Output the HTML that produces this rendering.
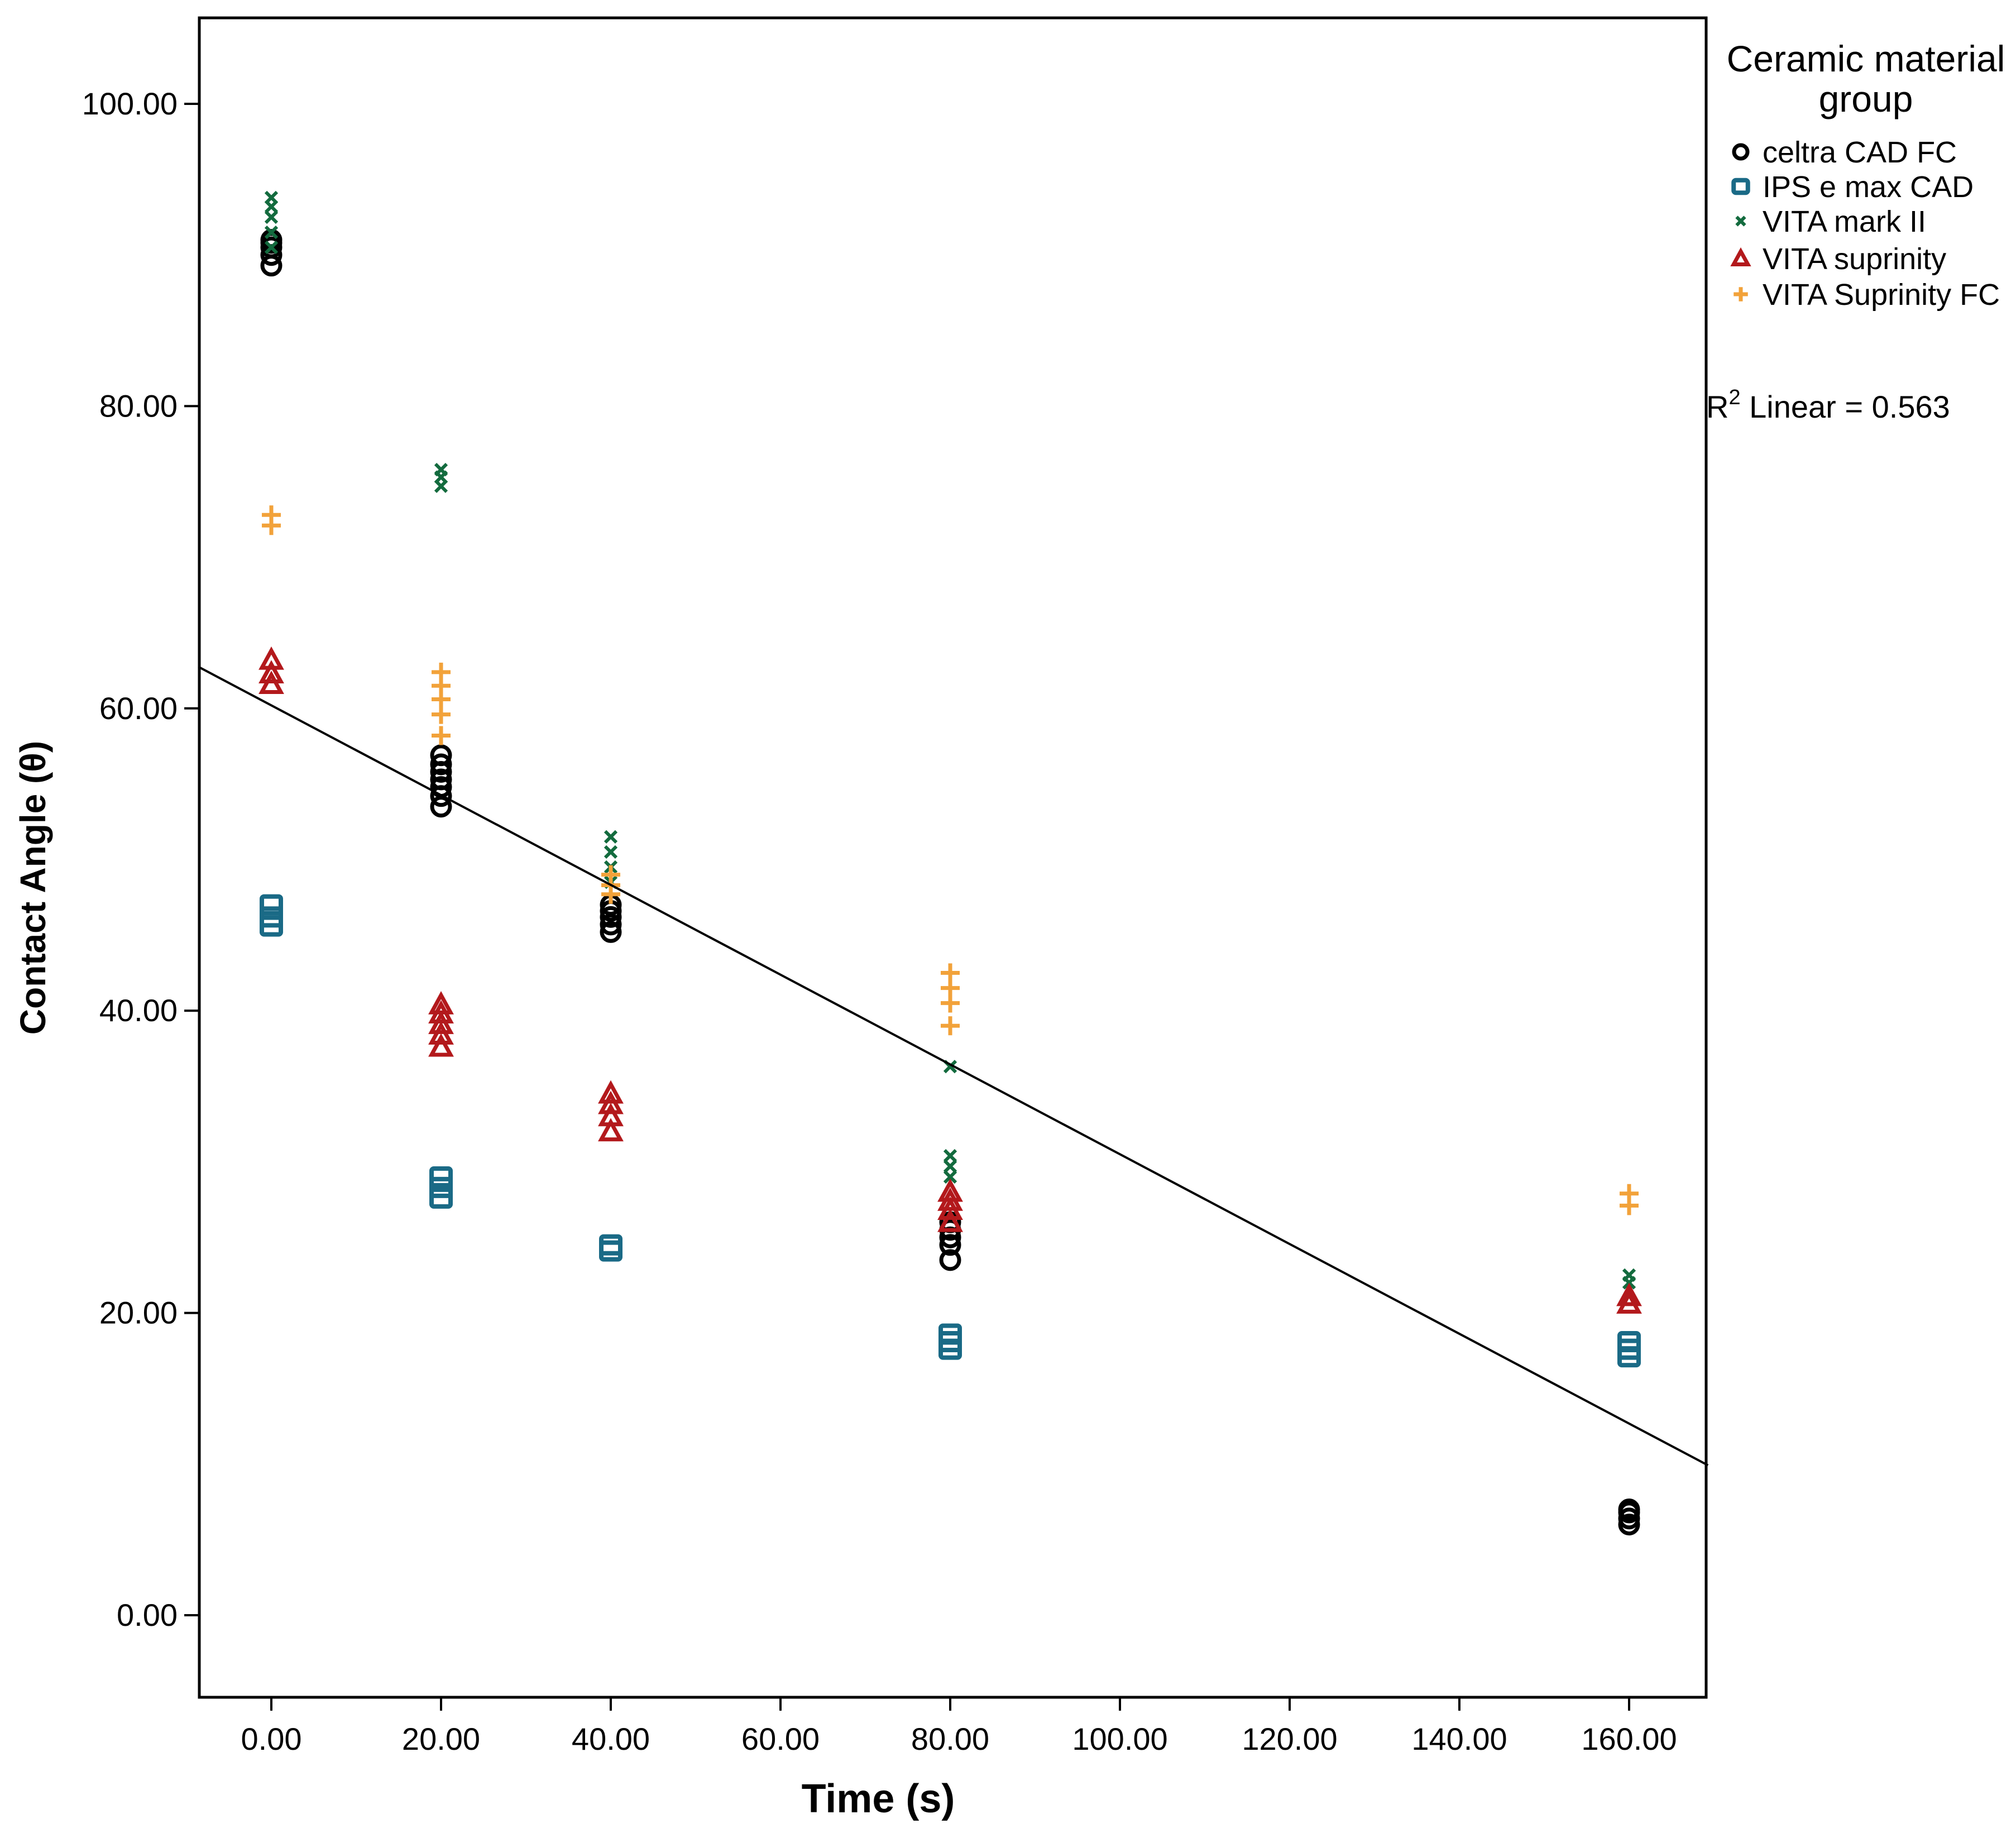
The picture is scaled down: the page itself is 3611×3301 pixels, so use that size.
<!DOCTYPE html>
<html><head><meta charset="utf-8"><style>
html,body{margin:0;padding:0;background:#fff}
svg{display:block;font-family:"Liberation Sans",Arial,sans-serif}
</style></head><body>
<svg id="chart" width="3611" height="3301" viewBox="0 0 3611 3301">
<rect x="0" y="0" width="3611" height="3301" fill="#fff"/>
<g id="axes"></g>
<g id="marks"></g>
<rect x="357" y="32" width="2699" height="3008" fill="none" stroke="#000" stroke-width="5"/>
<text x="64" y="1590" transform="rotate(-90 64 1590)" text-anchor="middle" font-size="64" font-weight="bold" dominant-baseline="middle">Contact Angle (θ)</text>
<text x="1573" y="3246" text-anchor="middle" font-size="72" font-weight="bold">Time (s)</text>
<g>
<text x="3342" y="128" text-anchor="middle" font-size="66">Ceramic material</text>
<text x="3342" y="200" text-anchor="middle" font-size="66">group</text>
<g id="legend-entries"></g>
</g>
<text x="3056" y="748" font-size="56">R<tspan dy="-24" font-size="38">2</tspan><tspan dy="24"> Linear = 0.563</tspan></text>
</svg>
<script>
const yTicks=[0,20,40,60,80,100];
const xTicks=[0,20,40,60,80,100,120,140,160];
const groupNames=["celtra CAD FC","IPS e max CAD","VITA mark II","VITA suprinity","VITA Suprinity FC"];
const celtraT=[0,0,0,0,0,20,20,20,20,20,20,20,40,40,40,40,40,80,80,80,80,80,160,160,160,160];
const celtraV=[89.3,90,90.5,90.8,91,53.5,54.2,54.8,55.3,55.8,56.3,56.9,45.2,45.7,46.2,46.6,47,23.5,24.5,25,25.5,26,6,6.4,6.8,7];
const ipsT=[0,0,0,20,20,20,40,40,80,80,80,160,160,160];
const ipsV=[45.6,46.2,47,27.6,28.3,29,24.1,24.5,17.6,18.1,18.6,17.1,17.6,18.1];
const markT=[0,0,0,0,0,20,20,20,40,40,40,40,80,80,80,80,160,160];
const markV=[90.5,91.5,92.5,93.2,93.8,74.7,75.3,75.8,48.5,49.5,50.5,51.5,29,29.7,30.4,36.3,22,22.5];
const supT=[0,0,0,20,20,20,20,20,40,40,40,40,80,80,80,80,160,160];
const supV=[61.6,62.3,63.2,37.6,38.4,39.1,39.8,40.4,32,33,33.8,34.5,26,26.8,27.4,28,20.6,21.1];
const fcT=[0,0,20,20,20,20,20,40,40,40,80,80,80,80,160,160];
const fcV=[72.1,72.8,58.2,59.6,60.6,61.5,62.4,47.7,48.3,49,39,40.5,41.5,42.5,27.1,27.9];
const fitIntercept=60.2, fitSlope=-0.297;

const NS="http://www.w3.org/2000/svg";
const xs=v=>486+v*15.2;
const ys=v=>2893-v*27.07;
function mk(tag,attrs,parent){const e=document.createElementNS(NS,tag);for(const k in attrs)e.setAttribute(k,attrs[k]);parent.appendChild(e);return e;}
const axes=document.getElementById('axes'), marks=document.getElementById('marks');
yTicks.forEach(t=>{
  const l=mk('line',{x1:330,x2:357,y1:ys(t),y2:ys(t),stroke:'#000','stroke-width':4},axes);
  
  
  const tx=mk('text',{x:318,y:ys(t)+19,'text-anchor':'end','font-size':56},axes);
  tx.textContent=t.toFixed(2);
  
  
});
xTicks.forEach(t=>{
  const l=mk('line',{x1:xs(t),x2:xs(t),y1:3040,y2:3064,stroke:'#000','stroke-width':4},axes);
  
  
  const tx=mk('text',{x:xs(t),y:3134,'text-anchor':'middle','font-size':56},axes);
  tx.textContent=t.toFixed(2);
  
  
});
function marker(kind,cx,cy,parent,s){
  s=s||1;let e;
  if(kind==0){e=mk('circle',{cx:cx,cy:cy,r:16*s,fill:'none',stroke:'#000','stroke-width':7},parent);}
  else if(kind==1){e=mk('rect',{x:cx-17*s,y:cy-15*s,width:34*s,height:30*s,rx:4,fill:'none',stroke:'#1a6a86','stroke-width':8},parent);}
  else if(kind==2){e=mk('path',{d:`M${cx-10*s} ${cy-10*s}L${cx+10*s} ${cy+10*s}M${cx+10*s} ${cy-10*s}L${cx-10*s} ${cy+10*s}`,stroke:'#136b3e','stroke-width':6},parent);}
  else if(kind==3){e=mk('path',{d:`M${cx} ${cy-17*s}L${cx+17*s} ${cy+14*s}L${cx-17*s} ${cy+14*s}Z`,fill:'none',stroke:'#b3191c','stroke-width':7},parent);}
  else {e=mk('path',{d:`M${cx-17*s} ${cy}L${cx+17*s} ${cy}M${cx} ${cy-17*s}L${cx} ${cy+17*s}`,stroke:'#f2a23a','stroke-width':7},parent);}
  return e;
}
const series=[[celtraT,celtraV],[ipsT,ipsV],[markT,markV],[supT,supV],[fcT,fcV]];
const names=['celtra-point','ips-point','mark-ii-point','suprinity-point','suprinity-fc-point'];
series.forEach((s,k)=>{
  s[0].forEach((t,i)=>{
    const e=marker(k,xs(t),ys(s[1][i]),marks);
    
    
  });
});
const x0=-8.6,x1=169.3;
const fl=mk('line',{x1:xs(x0),y1:ys(fitIntercept+fitSlope*x0),x2:xs(x1),y2:ys(fitIntercept+fitSlope*x1),stroke:'#000','stroke-width':4},marks);


const le=document.getElementById('legend-entries');
const ly=[272,334,396,463,527];
groupNames.forEach((n,k)=>{
  const m=marker(k,3118,ly[k],le,0.75);
  
  
  const t=mk('text',{x:3157,y:ly[k]+19,'font-size':54},le);
  t.textContent=n;
  
  
});
</script>
</body></html>
